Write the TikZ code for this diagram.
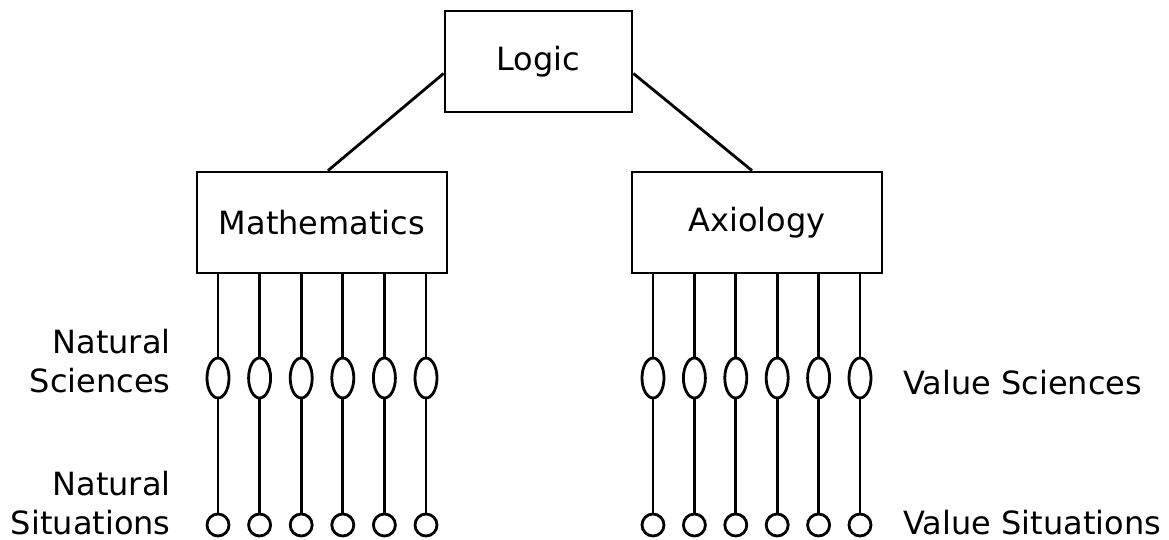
\documentclass[tikz,border=0pt]{standalone}
\usepackage{fontspec}
\setmainfont{DejaVu Sans}
\usetikzlibrary{shapes.geometric}

\begin{document}
\begin{tikzpicture}[x=0.5pt, y=-0.5pt, line width=1.4pt,
  font=\fontsize{16}{19.5}\selectfont,
  field/.style={draw, rectangle, minimum width=125pt, minimum height=50.5pt, inner sep=0pt},
  science/.style={draw, ellipse, minimum width=11pt, minimum height=20pt, inner sep=0pt},
  situation/.style={draw, circle, minimum size=11pt, inner sep=0pt}]
\useasboundingbox (0,0) rectangle (1169,540);

% Draw the three boxes
\node[field, minimum width=93.5pt] (logic) at (538.5, 61.5) {Logic};
\node[field] (math) at (322, 222.5) {Mathematics};
\node[field] (axio) at (757, 222.5) {Axiology};
\draw ([yshift=-6pt]logic.west) -- ([xshift=3pt]math.north);
\draw ([yshift=-6pt]logic.east) -- ([xshift=-2.5pt]axio.north);

% Natural sciences and situations
\node[science] (ns1) at (218, 378) {};
\node[situation] (nt1) at (218, 525) {};
\draw (math.south -| ns1) -- (ns1) -- (nt1);
\node[science] (ns2) at (259.6, 378) {};
\node[situation] (nt2) at (259.6, 525) {};
\draw (math.south -| ns2) -- (ns2) -- (nt2);
\node[science] (ns3) at (301.2, 378) {};
\node[situation] (nt3) at (301.2, 525) {};
\draw (math.south -| ns3) -- (ns3) -- (nt3);
\node[science] (ns4) at (342.8, 378) {};
\node[situation] (nt4) at (342.8, 525) {};
\draw (math.south -| ns4) -- (ns4) -- (nt4);
\node[science] (ns5) at (384.4, 378) {};
\node[situation] (nt5) at (384.4, 525) {};
\draw (math.south -| ns5) -- (ns5) -- (nt5);
\node[science] (ns6) at (426, 378) {};
\node[situation] (nt6) at (426, 525) {};
\draw (math.south -| ns6) -- (ns6) -- (nt6);

% Value sciences and situations
\node[science] (vs1) at (653, 378) {};
\node[situation] (vt1) at (653, 525) {};
\draw (axio.south -| vs1) -- (vs1) -- (vt1);
\node[science] (vs2) at (694.4, 378) {};
\node[situation] (vt2) at (694.4, 525) {};
\draw (axio.south -| vs2) -- (vs2) -- (vt2);
\node[science] (vs3) at (735.8, 378) {};
\node[situation] (vt3) at (735.8, 525) {};
\draw (axio.south -| vs3) -- (vs3) -- (vt3);
\node[science] (vs4) at (777.2, 378) {};
\node[situation] (vt4) at (777.2, 525) {};
\draw (axio.south -| vs4) -- (vs4) -- (vt4);
\node[science] (vs5) at (818.6, 378) {};
\node[situation] (vt5) at (818.6, 525) {};
\draw (axio.south -| vs5) -- (vs5) -- (vt5);
\node[science] (vs6) at (860, 378) {};
\node[situation] (vt6) at (860, 525) {};
\draw (axio.south -| vs6) -- (vs6) -- (vt6);

% Labels
\node[anchor=east, align=right, inner sep=0pt] (natsci) at (172, 361) {Natural\\Sciences};
\node[anchor=east, align=right, inner sep=0pt] (natsit) at (172, 503.5) {Natural\\Situations};
\node[anchor=base west, inner sep=0pt] (valsci) at (902, 394) {Value Sciences};
\node[anchor=base west, inner sep=0pt] (valsit) at (902, 534) {Value Situations};
\end{tikzpicture}
\end{document}
